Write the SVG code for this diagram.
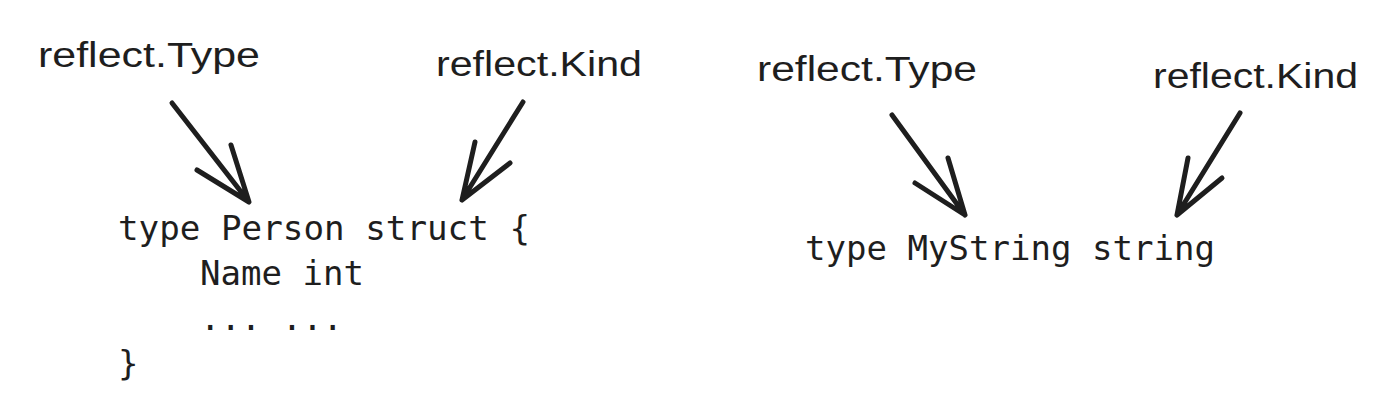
<svg xmlns="http://www.w3.org/2000/svg" width="1388" height="416" viewBox="0 0 1388 416">
<style>
.lbl{font-family:"Liberation Sans",sans-serif;font-size:35px;fill:#1e1e1e}
.code{font-family:"DejaVu Sans Mono","Liberation Mono",monospace;font-size:34px;fill:#1e1e1e}
.arr{fill:none;stroke:#1e1e1e;stroke-width:5;stroke-linecap:round;stroke-linejoin:round}
</style>
<rect width="1388" height="416" fill="#ffffff"/>
<g id="label-type-1"><text class="lbl" x="38" y="67" textLength="222" lengthAdjust="spacingAndGlyphs">reflect.Type</text></g>
<g id="label-kind-1"><text class="lbl" x="436" y="76" textLength="206" lengthAdjust="spacingAndGlyphs">reflect.Kind</text></g>
<g id="label-type-2"><text class="lbl" x="757" y="81" textLength="220" lengthAdjust="spacingAndGlyphs">reflect.Type</text></g>
<g id="label-kind-2"><text class="lbl" x="1153" y="88" textLength="205" lengthAdjust="spacingAndGlyphs">reflect.Kind</text></g>
<g id="code-person">
<text class="code" x="118" y="240" textLength="412" lengthAdjust="spacingAndGlyphs">type Person struct {</text>
<text class="code" x="200" y="285" textLength="164" lengthAdjust="spacingAndGlyphs">Name int</text>
<text class="code" x="200" y="330" textLength="143" lengthAdjust="spacingAndGlyphs">... ...</text>
<text class="code" x="118" y="375">}</text>
</g>
<g id="code-mystring"><text class="code" x="805" y="260" textLength="410" lengthAdjust="spacingAndGlyphs">type MyString string</text></g>
<g id="connectors">
<path class="arr" d="M172 103 L249 202 M197 170 L249 202 L231 145"/>
<path class="arr" d="M523 102 L462 200 M475 142 L462 200 L510 163"/>
<path class="arr" d="M892 115 L965 215 M915 183 L965 215 L948 158"/>
<path class="arr" d="M1240 113 L1177 215 M1188 158 L1177 215 L1222 178"/>
</g>
</svg>
